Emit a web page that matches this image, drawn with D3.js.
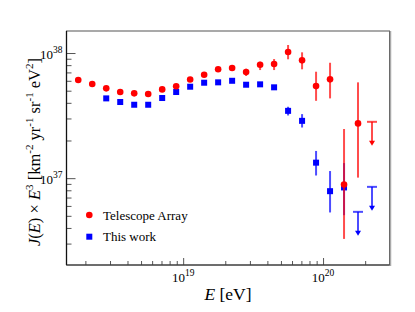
<!DOCTYPE html>
<html>
<head>
<meta charset="utf-8">
<script src="https://cdn.jsdelivr.net/npm/d3@7"></script>
<style>
  body { margin: 0; background: #fff; }
</style>
</head>
<body>
<div id="chart"></div>
<script>
// log10(E/eV) bin centres
var logE = [18.25, 18.35, 18.45, 18.55, 18.65, 18.75, 18.85, 18.95, 19.05, 19.15, 19.25,
            19.35, 19.45, 19.55, 19.65, 19.75, 19.85, 19.95, 20.05, 20.15, 20.25, 20.35];

// Telescope Array, J*E^3 in units of 1e37 km^-2 yr^-1 sr^-1 eV^2
var taVal = [6.08, 5.65, 5.22, 4.88, 4.76, 4.70, 5.12, 5.42, 6.14, 6.71, 7.41,
             7.59, 7.05, 8.06, 8.17, 10.19, 8.74, 5.44, 6.16, 0.89, 2.74, 2.82];
var taHi  = [6.08, 5.65, 5.22, 4.88, 4.76, 4.70, 5.12, 5.42, 6.14, 6.71, 7.41,
             7.59, 7.49, 8.52, 8.95, 11.59, 10.13, 7.09, 8.36, 2.47, 5.83, 2.82];
var taLo  = [6.08, 5.65, 5.22, 4.88, 4.76, 4.70, 5.12, 5.42, 6.14, 6.71, 7.41,
             7.59, 6.55, 7.31, 7.31, 8.91, 7.41, 4.15, 4.34, 0.327, 1.01, 2.82];
var taLimit = [false, false, false, false, false, false, false, false, false, false, false,
               false, false, false, false, false, false, false, false, false, false, true];

// This work (starts at 18.45)
var twLogE = [18.45, 18.55, 18.65, 18.75, 18.85, 18.95, 19.05, 19.15, 19.25, 19.35,
              19.45, 19.55, 19.65, 19.75, 19.85, 19.95, 20.05, 20.15, 20.25, 20.35];
var twVal = [4.34, 4.06, 3.86, 3.86, 4.37, 4.88, 5.38, 5.79, 5.83, 6.00,
             5.58, 5.62, 5.32, 3.45, 2.87, 1.33, 0.787, 0.843, 0.538, 0.852];
var twHi  = [4.34, 4.06, 3.86, 3.86, 4.37, 4.88, 5.38, 5.79, 5.83, 6.00,
             5.58, 5.62, 5.32, 3.72, 3.25, 1.65, 1.14, 1.32, 0.538, 0.852];
var twLo  = [4.34, 4.06, 3.86, 3.86, 4.37, 4.88, 5.38, 5.79, 5.83, 6.00,
             5.58, 5.62, 5.32, 3.17, 2.54, 1.05, 0.532, 0.506, 0.538, 0.852];
var twLimit = [false, false, false, false, false, false, false, false, false, false,
               false, false, false, false, false, false, false, false, true, true];

var xMajor = [1e19, 1e20];
var xMajorExp = ["19", "20"];
var yMajor = [1, 10];           // 1e37, 1e38
var yMajorExp = ["37", "38"];
var legendLabels = ["Telescope Array", "This work"];

var svgWidth = 415;
var svgHeight = 312;
var frame = { left: 66.5, right: 389.5, top: 31, bottom: 265 };
var serif = "Liberation Serif, serif";

var svg = d3.select("#chart")
    .append("svg")
    .attr("width", svgWidth)
    .attr("height", svgHeight)
    .attr("font-family", serif);

// scales
var xScale = d3.scaleLog()
    .domain([Math.pow(10, 18.166), Math.pow(10, 20.475)])
    .range([frame.left, frame.right]);

var yScale = d3.scaleLog()
    .domain([Math.pow(10, -0.694), Math.pow(10, 1.176)])
    .range([frame.bottom, frame.top]);

// minor tick values
var xMinor = [];
[1e18, 1e19, 1e20].forEach(function(d) {
    for (var k = 2; k <= 9; k++) {
        var v = d * k;
        if (v > xScale.domain()[0] && v < xScale.domain()[1]) xMinor.push(v);
    }
});
var yMinor = [];
[0.1, 1, 10].forEach(function(d) {
    for (var k = 2; k <= 9; k++) {
        var v = d * k;
        if (v > yScale.domain()[0] && v < yScale.domain()[1]) yMinor.push(v);
    }
});

// frame
svg.append("rect")
    .attr("x", frame.left)
    .attr("y", frame.top)
    .attr("width", frame.right - frame.left)
    .attr("height", frame.bottom - frame.top)
    .attr("fill", "none")
    .attr("stroke", "#555")
    .attr("stroke-width", 1);
svg.append("line")
    .attr("x1", frame.right + 1).attr("x2", frame.right + 1)
    .attr("y1", frame.top).attr("y2", frame.bottom + 1)
    .attr("stroke", "#aaa")
    .attr("stroke-width", 1.5);

// axes (inside ticks)
function styleAxis(g) {
    g.select(".domain").remove();
    g.selectAll("line").attr("stroke", "#555");
}

svg.append("g")
    .attr("transform", `translate(0, ${frame.bottom})`)
    .call(d3.axisTop(xScale).tickValues(xMinor).tickSize(4).tickFormat(""))
    .call(styleAxis);
svg.append("g")
    .attr("transform", `translate(0, ${frame.bottom})`)
    .call(d3.axisTop(xScale).tickValues(xMajor).tickSize(7).tickFormat(""))
    .call(styleAxis);

svg.append("g")
    .attr("transform", `translate(${frame.left}, 0)`)
    .call(d3.axisRight(yScale).tickValues(yMinor).tickSize(5).tickFormat(""))
    .call(styleAxis);
svg.append("g")
    .attr("transform", `translate(${frame.left}, 0)`)
    .call(d3.axisRight(yScale).tickValues(yMajor).tickSize(9).tickFormat(""))
    .call(styleAxis);

// left and bottom axis lines
svg.append("line")
    .attr("x1", frame.left).attr("x2", frame.left)
    .attr("y1", frame.top).attr("y2", frame.bottom)
    .attr("stroke", "#111").attr("stroke-width", 1.3);
svg.append("line")
    .attr("x1", frame.left).attr("x2", frame.right)
    .attr("y1", frame.bottom).attr("y2", frame.bottom)
    .attr("stroke", "#333").attr("stroke-width", 1.2);

// tick labels 10^n
xMajor.forEach(function(d, i) {
    var t = svg.append("text")
        .attr("x", xScale(d))
        .attr("y", 282)
        .attr("text-anchor", "middle")
        .style("font-size", "13px");
    t.append("tspan").text("10");
    t.append("tspan").attr("dy", -6).style("font-size", "9.5px").text(xMajorExp[i]);
});
yMajor.forEach(function(d, i) {
    var t = svg.append("text")
        .attr("x", frame.left - 4)
        .attr("y", yScale(d) + 6)
        .attr("text-anchor", "end")
        .style("font-size", "13px");
    t.append("tspan").text("10");
    t.append("tspan").attr("dy", -6).style("font-size", "9.5px").text(yMajorExp[i]);
});

// axis titles
var xTitle = svg.append("text")
    .attr("x", (frame.left + frame.right) / 2)
    .attr("y", 300)
    .attr("text-anchor", "middle")
    .style("font-size", "17.5px");
xTitle.append("tspan").style("font-style", "italic").text("E");
xTitle.append("tspan").text(" [eV]");

var yTitle = svg.append("text")
    .attr("transform", `translate(40, 152) rotate(-90)`)
    .attr("text-anchor", "middle")
    .style("font-size", "16.5px");
yTitle.append("tspan").style("font-style", "italic").text("J");
yTitle.append("tspan").text("(");
yTitle.append("tspan").style("font-style", "italic").text("E");
yTitle.append("tspan").text(") \u00d7 ");
yTitle.append("tspan").style("font-style", "italic").text("E");
yTitle.append("tspan").attr("dy", -7).style("font-size", "11px").text("3");
yTitle.append("tspan").attr("dy", 7).text(" [km");
yTitle.append("tspan").attr("dy", -7).style("font-size", "11px").text("-2");
yTitle.append("tspan").attr("dy", 7).text(" yr");
yTitle.append("tspan").attr("dy", -7).style("font-size", "11px").text("-1");
yTitle.append("tspan").attr("dy", 7).text(" sr");
yTitle.append("tspan").attr("dy", -7).style("font-size", "11px").text("-1");
yTitle.append("tspan").attr("dy", 7).text(" eV");
yTitle.append("tspan").attr("dy", -7).style("font-size", "11px").text("2");
yTitle.append("tspan").attr("dy", 7).text("]");

// build series rows
function rows(es, vals, his, los, lims) {
    return es.map(function(e, i) {
        return { e: Math.pow(10, e), v: vals[i], hi: his[i], lo: los[i], lim: lims[i] };
    });
}
var taData = rows(logE, taVal, taHi, taLo, taLimit);
var twData = rows(twLogE, twVal, twHi, twLo, twLimit);

var arrowLen = 24;

function drawSeries(data, color, marker) {
    var g = svg.append("g");

    // error bars
    g.selectAll(".err")
        .data(data.filter(d => !d.lim && d.hi > d.lo))
        .enter()
        .append("line")
        .attr("x1", d => xScale(d.e)).attr("x2", d => xScale(d.e))
        .attr("y1", d => yScale(d.hi)).attr("y2", d => yScale(d.lo))
        .attr("stroke", color)
        .attr("stroke-opacity", 0.7)
        .attr("stroke-width", 2);

    // upper limits
    var lim = g.selectAll(".lim")
        .data(data.filter(d => d.lim))
        .enter()
        .append("g");
    lim.append("line")
        .attr("x1", d => xScale(d.e) - 5).attr("x2", d => xScale(d.e) + 5)
        .attr("y1", d => yScale(d.v)).attr("y2", d => yScale(d.v))
        .attr("stroke", color).attr("stroke-opacity", 0.7).attr("stroke-width", 2);
    lim.append("line")
        .attr("x1", d => xScale(d.e)).attr("x2", d => xScale(d.e))
        .attr("y1", d => yScale(d.v)).attr("y2", d => yScale(d.v) + arrowLen - 4)
        .attr("stroke", color).attr("stroke-opacity", 0.7).attr("stroke-width", 2);
    lim.append("path")
        .attr("d", function(d) {
            var x = xScale(d.e), y = yScale(d.v) + arrowLen;
            return `M${x - 3},${y - 5} L${x + 3},${y - 5} L${x},${y} Z`;
        })
        .attr("fill", color);

    // markers
    var pts = data.filter(d => !d.lim);
    if (marker === "circle") {
        g.selectAll("circle")
            .data(pts)
            .enter()
            .append("circle")
            .attr("cx", d => xScale(d.e))
            .attr("cy", d => yScale(d.v))
            .attr("r", 3.3)
            .attr("fill", color);
    } else {
        g.selectAll("rect")
            .data(pts)
            .enter()
            .append("rect")
            .attr("x", d => xScale(d.e) - 3)
            .attr("y", d => yScale(d.v) - 3)
            .attr("width", 6)
            .attr("height", 6)
            .attr("fill", color);
    }
}

drawSeries(twData, "#0000ff", "square");
drawSeries(taData, "#ff0000", "circle");

// legend
var legend = svg.append("g");
legend.append("circle")
    .attr("cx", 89.3).attr("cy", 215)
    .attr("r", 3.3)
    .attr("fill", "#ff0000");
legend.append("rect")
    .attr("x", 86.3).attr("y", 233.7)
    .attr("width", 6).attr("height", 6)
    .attr("fill", "#0000ff");
legend.selectAll("text")
    .data(legendLabels)
    .enter()
    .append("text")
    .attr("x", 103)
    .attr("y", (d, i) => 219.5 + i * 21.5)
    .attr("font-family", serif)
    .style("font-size", "13px")
    .text(d => d);
</script>
</body>
</html>
